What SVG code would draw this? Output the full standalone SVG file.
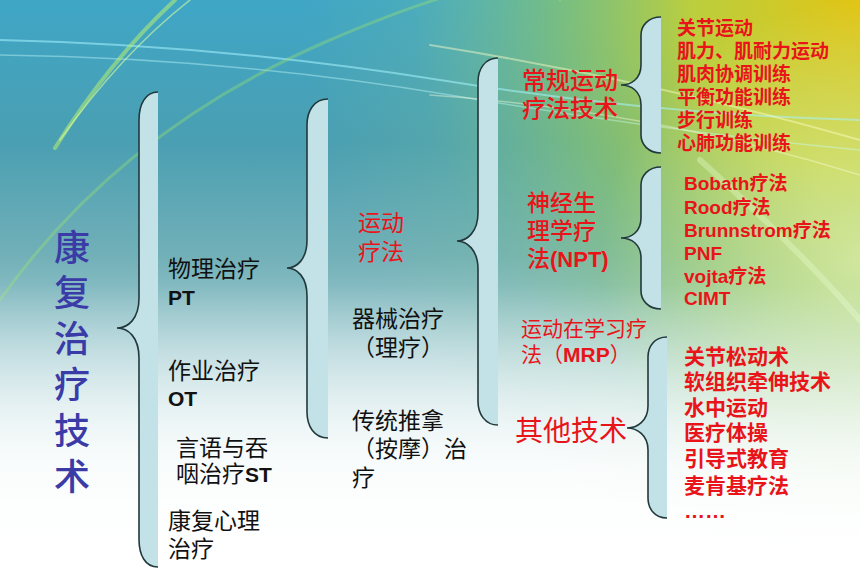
<svg xmlns="http://www.w3.org/2000/svg" width="860" height="570" viewBox="0 0 860 570">
<defs>
<linearGradient id="bgv" x1="0" y1="0" x2="0" y2="1">
<stop offset="0" stop-color="#3fa6c6"/>
<stop offset="0.25" stop-color="#4a9fb2"/>
<stop offset="0.45" stop-color="#72b0b8"/>
<stop offset="0.65" stop-color="#b6d7db"/>
<stop offset="0.82" stop-color="#edf6f6"/>
<stop offset="1" stop-color="#ffffff"/>
</linearGradient>
<radialGradient id="bgr" gradientUnits="userSpaceOnUse" cx="860" cy="0" r="560">
<stop offset="0" stop-color="#e2c414" stop-opacity="1"/>
<stop offset="0.3" stop-color="#c6d232" stop-opacity="0.92"/>
<stop offset="0.55" stop-color="#98cc5c" stop-opacity="0.6"/>
<stop offset="0.8" stop-color="#8ccc88" stop-opacity="0.15"/>
<stop offset="1" stop-color="#8ccc88" stop-opacity="0"/>
</radialGradient>
<radialGradient id="bgr2" gradientUnits="userSpaceOnUse" cx="860" cy="260" r="260">
<stop offset="0" stop-color="#e8f4b0" stop-opacity="0.7"/>
<stop offset="1" stop-color="#e8f4b0" stop-opacity="0"/>
</radialGradient>
<linearGradient id="bgw" x1="0" y1="0" x2="0" y2="1">
<stop offset="0" stop-color="#ffffff" stop-opacity="0"/>
<stop offset="0.5" stop-color="#ffffff" stop-opacity="0"/>
<stop offset="0.75" stop-color="#ffffff" stop-opacity="0.6"/>
<stop offset="1" stop-color="#ffffff" stop-opacity="1"/>
</linearGradient>
<style>
.brace{fill:#c3e2e7;stroke:#22393c;stroke-width:1.6}
.t{font-family:"Liberation Sans","Noto Sans CJK SC",sans-serif}
.blk{fill:#111111;font-size:23px}
.red{fill:#e8141a}
.m{font-weight:500}
.b{font-weight:bold}
.title{font-family:"Noto Sans CJK SC",sans-serif;font-size:36px;fill:#3b3ba8;font-weight:500;writing-mode:vertical-rl;letter-spacing:9.8px}
.streak{fill:none;stroke-linecap:round}
</style>
</defs>
<g id="background">
<rect width="860" height="570" fill="url(#bgv)"/>
<rect width="860" height="570" fill="url(#bgr)"/>
<rect width="860" height="570" fill="url(#bgr2)"/>
<path class="streak" d="M0,40 Q220,45 440,80 T860,120" stroke="#a8f4ff" stroke-width="2" opacity="0.55"/>
<path class="streak" d="M0,55 Q230,58 450,95 T860,150" stroke="#c8ffff" stroke-width="1.5" opacity="0.4"/>
<path class="streak" d="M55,148 Q110,60 175,0" stroke="#b8f070" stroke-width="4" opacity="0.55"/>
<path class="streak" d="M60,140 Q120,55 190,0" stroke="#d8ffa0" stroke-width="1.5" opacity="0.6"/>
<path class="streak" d="M0,300 Q120,130 330,40 T560,0" stroke="#9ee86a" stroke-width="3" opacity="0.35"/>
<path class="streak" d="M430,45 Q650,80 860,140" stroke="#ffffc8" stroke-width="2" opacity="0.45"/>
<path class="streak" d="M430,95 Q650,110 860,175" stroke="#ffffe0" stroke-width="1.5" opacity="0.4"/>
<path class="streak" d="M700,160 Q800,250 860,320" stroke="#e8ffd0" stroke-width="6" opacity="0.35"/>
<rect width="860" height="570" fill="url(#bgw)"/>
</g>
<g id="connectors">
<path class="brace" d="M158,92 C145,92 139,105 139,120 V298 C139,319 128,328 117,328 C128,328 139,337 139,358 V539 C139,555 145,567 158,567"/>
<path class="brace" d="M328,99 C314,99 307,111 307,125 V240 C307,259 297,268 287,268 C297,268 307,277 307,296 V412 C307,426 314,438 328,438"/>
<path class="brace" d="M498,58 C485,58 478,69 478,82 V213 C478,232 467,241 457,241 C467,241 478,250 478,269 V401 C478,414 485,425 498,425"/>
<path class="brace" d="M661,17 C648,17 641,26 641,35 V65 C641,79 631,85 621,85 C631,85 641,91 641,105 V135 C641,144 648,153 661,153"/>
<path class="brace" d="M661,167 C648,167 641,176 641,185 V218 C641,232 631,238 621,238 C631,238 641,244 641,258 V291 C641,300 648,309 661,309"/>
<path class="brace" d="M667,337 C654,337 648,347 648,357 V406 C648,421 637,428 627,428 C637,428 648,435 648,450 V498 C648,508 654,518 667,518"/>
</g>
<g id="root">
<text class="title" x="72" y="229">康复治疗技术</text>
</g>
<g id="pt">
<text class="t blk"><tspan x="168" y="277">物理治疗</tspan><tspan x="168" y="305" class="b" font-size="21">PT</tspan></text>
</g>
<g id="ot">
<text class="t blk"><tspan x="168" y="379">作业治疗</tspan><tspan x="168" y="406" class="b" font-size="21">OT</tspan></text>
</g>
<g id="st">
<text class="t blk"><tspan x="176" y="456">言语与吞</tspan><tspan x="176" y="482">咽治疗</tspan><tspan class="b" font-size="21">ST</tspan></text>
</g>
<g id="psy">
<text class="t blk"><tspan x="168" y="529">康复心理</tspan><tspan x="168" y="557">治疗</tspan></text>
</g>
<g id="yundong">
<text class="t red" font-size="23"><tspan x="358" y="231">运动</tspan><tspan x="358" y="260">疗法</tspan></text>
</g>
<g id="qixie">
<text class="t blk"><tspan x="352" y="327">器械治疗</tspan><tspan x="352" y="356">（理疗）</tspan></text>
</g>
<g id="tuina">
<text class="t blk"><tspan x="352" y="429">传统推拿</tspan><tspan x="352" y="457">（按摩）治</tspan><tspan x="352" y="486">疗</tspan></text>
</g>
<g id="changgui">
<text class="t red m" font-size="24"><tspan x="522" y="89">常规运动</tspan><tspan x="522" y="117">疗法技术</tspan></text>
</g>
<g id="list1">
<text class="t red b" font-size="19"><tspan x="677" y="35">关节运动</tspan><tspan x="677" y="58">肌力、肌耐力运动</tspan><tspan x="677" y="81">肌肉协调训练</tspan><tspan x="677" y="104">平衡功能训练</tspan><tspan x="677" y="127">步行训练</tspan><tspan x="677" y="150">心肺功能训练</tspan></text>
</g>
<g id="npt">
<text class="t red m" font-size="23"><tspan x="527" y="211">神经生</tspan><tspan x="527" y="239">理学疗</tspan><tspan x="527" y="267">法</tspan><tspan class="b" font-size="22">(NPT)</tspan></text>
</g>
<g id="list2">
<text class="t red b" font-size="19"><tspan x="684" y="190">Bobath疗法</tspan><tspan x="684" y="214">Rood疗法</tspan><tspan x="684" y="237">Brunnstrom疗法</tspan><tspan x="684" y="260">PNF</tspan><tspan x="684" y="283">vojta疗法</tspan><tspan x="684" y="305">CIMT</tspan></text>
</g>
<g id="mrp">
<text class="t red" font-size="21"><tspan x="521" y="336">运动在学习疗</tspan><tspan x="521" y="362">法（</tspan><tspan class="b">MRP</tspan><tspan>）</tspan></text>
</g>
<g id="qita">
<text class="t red" x="515" y="441" font-size="28">其他技术</text>
</g>
<g id="list3">
<text class="t red b" font-size="21"><tspan x="684" y="364">关节松动术</tspan><tspan x="684" y="389">软组织牵伸技术</tspan><tspan x="684" y="415">水中运动</tspan><tspan x="684" y="440">医疗体操</tspan><tspan x="684" y="466">引导式教育</tspan><tspan x="684" y="493">麦肯基疗法</tspan><tspan x="684" y="518">……</tspan></text>
</g>
</svg>
